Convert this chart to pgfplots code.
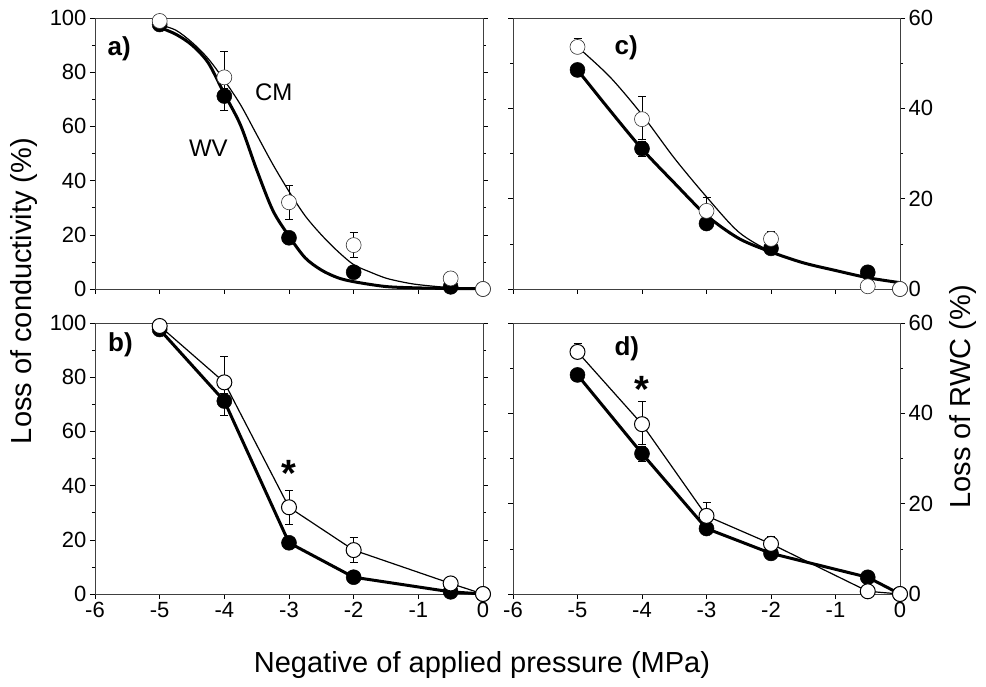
\documentclass[border=0pt]{standalone}
\usepackage{pgfplots}
\pgfplotsset{compat=1.18}
\usepackage{fontspec}
\setmainfont{Liberation Sans}
\begin{document}
\begin{tikzpicture}[x=1pt,y=1pt]
\pgfplotsset{
  panel/.style={
    scale only axis, width=388pt, height=271pt,
    xmin=-6, xmax=0, xtick={-6,-5,...,0},
    tick align=outside, xtick pos=bottom, ytick pos=both,
    major tick length=5pt, minor tick length=3pt,
    minor y tick num=1,
    tick style={black, line width=0.5pt},
    axis line style={line width=0.6pt, black!75},
    tick label style={font=\fontsize{22}{22}\selectfont},
    /pgf/number format/assume math mode=true,
    clip=false,
  },
  leftp/.style={panel, ymin=0, ymax=100, ytick={0,20,...,100}, yticklabel pos=left},
  rightp/.style={panel, width=387pt, ymin=0, ymax=60, ytick={0,20,40,60}, yticklabel pos=right},
  wv/.style={black, line width=3pt, mark=*, mark size=7.5pt,
    mark options={solid, fill=black, draw=black, line width=0.5pt}},
  cm/.style={black, line width=1.2pt, mark=*, mark size=7.5pt,
    mark options={solid, fill=white, draw=black, line width=1pt}},
  cmthin/.style={cm, mark options={solid, fill=white, draw=black!80, line width=0.6pt}},
  fitthick/.style={black, line width=3pt, smooth, no marks},
  fitthin/.style={black, line width=1.2pt, smooth, no marks},
  eb/.style={error bars/.cd, y dir=both, y explicit,
    error bar style={line width=0.6pt, black},
    error mark options={rotate=90, mark size=4pt, line width=0.6pt, black}},
}
\tikzset{
  lab/.style={font=\fontsize{26}{26}\selectfont\bfseries, anchor=west},
  txt/.style={font=\fontsize{24}{24}\selectfont, anchor=west},
  star/.style={font=\fontsize{38}{38}\selectfont\bfseries},
  big/.style={font=\fontsize{29}{29}\selectfont},
}
\path (-95,-92) rectangle (891,594);

% a) conductivity, fitted curves
\begin{axis}[leftp, at={(0pt,305pt)}, anchor=south west, xticklabels={}]
\addplot[fitthick] coordinates {(-5,96.5)(-4.75,94)(-4.5,90)(-4.25,83.5)(-4,72)(-3.75,60.5)(-3.5,44)(-3.25,29)(-3,19.5)(-2.75,11.5)(-2.5,7)(-2.25,4.2)(-2,2.7)(-1.5,0.9)(-1,0.4)(-0.5,0.2)(0,0.1)};
\addplot[fitthin] coordinates {(-5,97.5)(-4.75,95.5)(-4.5,91)(-4.25,85)(-4,77)(-3.75,68)(-3.5,57)(-3.25,46)(-3,36)(-2.75,27)(-2.5,20)(-2.25,14)(-2,9)(-1.75,6.3)(-1.5,4)(-1.25,2.6)(-1,1.6)(-0.5,0.5)(0,0.2)};
\addplot[wv, only marks, eb] coordinates {(-5,97.6)(-4,71.2) -= (0,5.4) (-3,18.9)(-2,6.2)(-0.5,0.8)(0,0)};
\addplot[cmthin, only marks, eb] coordinates {(-5,98.9)(-4,78.1) += (0,9.5) -= (0,4) (-3,32) += (0,6.1) -= (0,6.3) (-2,16.2) += (0,4.7) -= (0,4.6) (-0.5,3.9)(0,0)};
\node[lab] at (axis cs:-5.86,88.5) {a)};
\node[txt] at (axis cs:-3.58,72.5) {CM};
\node[txt] at (axis cs:-4.6,52) {WV};
\end{axis}

% b) conductivity, connected
\begin{axis}[leftp, at={(0pt,0pt)}, anchor=south west]
\addplot[wv, eb] coordinates {(-5,97.6)(-4,71.2) -= (0,5.4) (-3,18.9)(-2,6.2)(-0.5,0.8)(0,0)};
\addplot[cm, eb] coordinates {(-5,98.9)(-4,78.1) += (0,9.5) -= (0,4) (-3,32) += (0,6.1) -= (0,6.3) (-2,16.2) += (0,4.7) -= (0,4.6) (-0.5,3.9)(0,0)};
\node[lab] at (axis cs:-5.85,92) {b)};
\node[star] at (axis cs:-3,44.6) {*};
\end{axis}

% c) RWC, fitted curves
\begin{axis}[rightp, at={(418pt,305pt)}, anchor=south west, xticklabels={}]
\addplot[fitthick] coordinates {(-5,48.5)(-4.5,39.6)(-4,31)(-3.5,23.5)(-3,16.3)(-2.5,11.2)(-2,8.2)(-1.5,5.8)(-1,4.1)(-0.5,2.5)(0,1.4)};
\addplot[fitthin] coordinates {(-5,53.6)(-4.5,47)(-4,38.6)(-3.5,29)(-3,20.4)(-2.5,12.6)(-2,8.3)(-1.5,5.8)(-1,4.1)(-0.5,2.5)(0,1.4)};
\addplot[wv, only marks, eb] coordinates {(-5,48.5) -= (0,1.5) (-4,31.1) +- (0,1.7) (-3,14.5)(-2,9)(-0.5,3.7)(0,0)};
\addplot[cmthin, only marks, eb] coordinates {(-5,53.6) += (0,2) -= (0,0) (-4,37.6) += (0,5) -= (0,4.5) (-3,17.3) += (0,2.9) -= (0,0) (-2,11.1) += (0,1.7) -= (0,0) (-0.5,0.6)(0,0)};
\node[lab] at (axis cs:-4.48,53.4) {c)};
\end{axis}

% d) RWC, connected
\begin{axis}[rightp, at={(418pt,0pt)}, anchor=south west]
\addplot[wv, eb] coordinates {(-5,48.5) -= (0,1.5) (-4,31.1) +- (0,1.7) (-3,14.5)(-2,9)(-0.5,3.7)(0,0)};
\addplot[cm, eb] coordinates {(-5,53.6) += (0,2) -= (0,0) (-4,37.6) += (0,5) -= (0,4.5) (-3,17.3) += (0,2.9) -= (0,0) (-2,11.1) += (0,1.7) -= (0,0) (-0.5,0.6)(0,0)};
\node[lab] at (axis cs:-4.48,54.2) {d)};
\node[star] at (axis cs:-4,45.4) {*};
\end{axis}

\node[rotate=90, big] at (-71,303) {Loss of conductivity (\%)};
\node[rotate=90, big] at (868,197) {Loss of RWC (\%)};
\node[big] at (387,-71) {Negative of applied pressure (MPa)};
\end{tikzpicture}
\end{document}
